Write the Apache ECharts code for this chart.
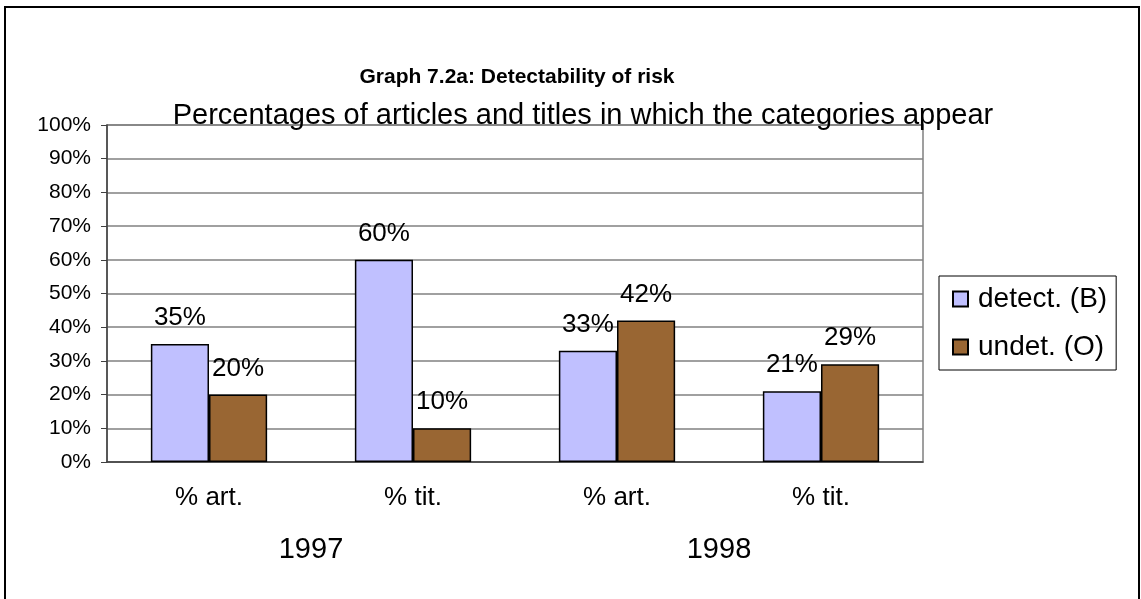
<!DOCTYPE html>
<html>
<head>
<meta charset="utf-8">
<script src="https://cdn.jsdelivr.net/npm/echarts@6/dist/echarts.min.js"></script>
<style>
  html, body { margin: 0; padding: 0; background: #fff; }
  #main { width: 1141px; height: 599px; }
</style>
</head>
<body>
<div id="main"></div>
<script>
// chart data
var categories = ['% art.', '% tit.', '% art.', '% tit.']
var years = ['1997', '1998']
var detectValues = [35, 60, 33, 21]
var undetValues = [20, 10, 42, 29]
var seriesNames = ['detect. (B)', 'undet. (O)']

var font = 'Liberation Sans, Arial, sans-serif'

var option = {
  animation: false,
  backgroundColor: '#fff',
  color: ['#C0C0FF', '#996633'],
  title: [
    {
      text: 'Graph 7.2a: Detectability of risk',
      left: 512,
      top: 62,
      textAlign: 'center',
      textStyle: {fontFamily: font, fontSize: 21, fontWeight: 'bold', color: '#000'}
    },
    {
      text: 'Percentages of articles and titles in which the categories appear',
      left: 578,
      top: 96,
      textAlign: 'center',
      textStyle: {fontFamily: font, fontSize: 29, fontWeight: 'normal', color: '#000'}
    }
  ],
  legend: {
    data: seriesNames,
    orient: 'vertical',
    left: 939,
    top: 276,
    padding: [9, 9, 9, 13],
    itemGap: 20,
    itemWidth: 15,
    itemHeight: 15,
    borderColor: '#000',
    borderWidth: 1,
    icon: 'rect',
    textStyle: {fontFamily: font, fontSize: 28, color: '#000', padding: [0, 0, 0, 5]}
  },
  grid: {
    left: 107,
    right: 218,
    top: 125,
    bottom: 137,
    show: true,
    borderColor: '#808080',
    borderWidth: 1.5
  },
  xAxis: [
    {
      type: 'category',
      data: categories,
      axisLine: {lineStyle: {color: '#404040', width: 1.5}},
      axisTick: {length: 8, lineStyle: {color: '#404040'}},
      axisLabel: {margin: 23, fontFamily: font, fontSize: 26, color: '#000'}
    },
    {
      type: 'category',
      data: years,
      position: 'bottom',
      axisLine: {show: false},
      axisTick: {show: false},
      axisLabel: {margin: 73, fontFamily: font, fontSize: 29, color: '#000'}
    }
  ],
  yAxis: {
    type: 'value',
    min: 0,
    max: 100,
    interval: 10,
    axisLine: {show: true, lineStyle: {color: '#404040', width: 1.5}},
    axisTick: {show: true, length: 6, lineStyle: {color: '#404040'}},
    axisLabel: {formatter: '{value}%', margin: 16, fontFamily: font, fontSize: 21, color: '#000'},
    splitLine: {lineStyle: {color: '#808080', width: 1.5}}
  },
  series: [
    {
      name: seriesNames[0],
      type: 'bar',
      data: detectValues,
      barGap: '0%',
      barCategoryGap: '43%',
      itemStyle: {borderColor: '#000', borderWidth: 1.5},
      label: {show: true, position: 'top', distance: 13, formatter: '{c}%', fontFamily: font, fontSize: 26, color: '#000'}
    },
    {
      name: seriesNames[1],
      type: 'bar',
      data: undetValues,
      barGap: '0%',
      barCategoryGap: '43%',
      itemStyle: {borderColor: '#000', borderWidth: 1.5},
      label: {show: true, position: 'top', distance: 13, formatter: '{c}%', fontFamily: font, fontSize: 26, color: '#000'}
    }
  ],
  graphic: [
    {
      type: 'rect',
      shape: {x: 5, y: 7, width: 1134, height: 600},
      style: {fill: 'none', stroke: '#000', lineWidth: 2},
      silent: true
    }
  ]
}

var myChart = echarts.init(document.getElementById('main'))
myChart.setOption(option)
</script>
</body>
</html>
